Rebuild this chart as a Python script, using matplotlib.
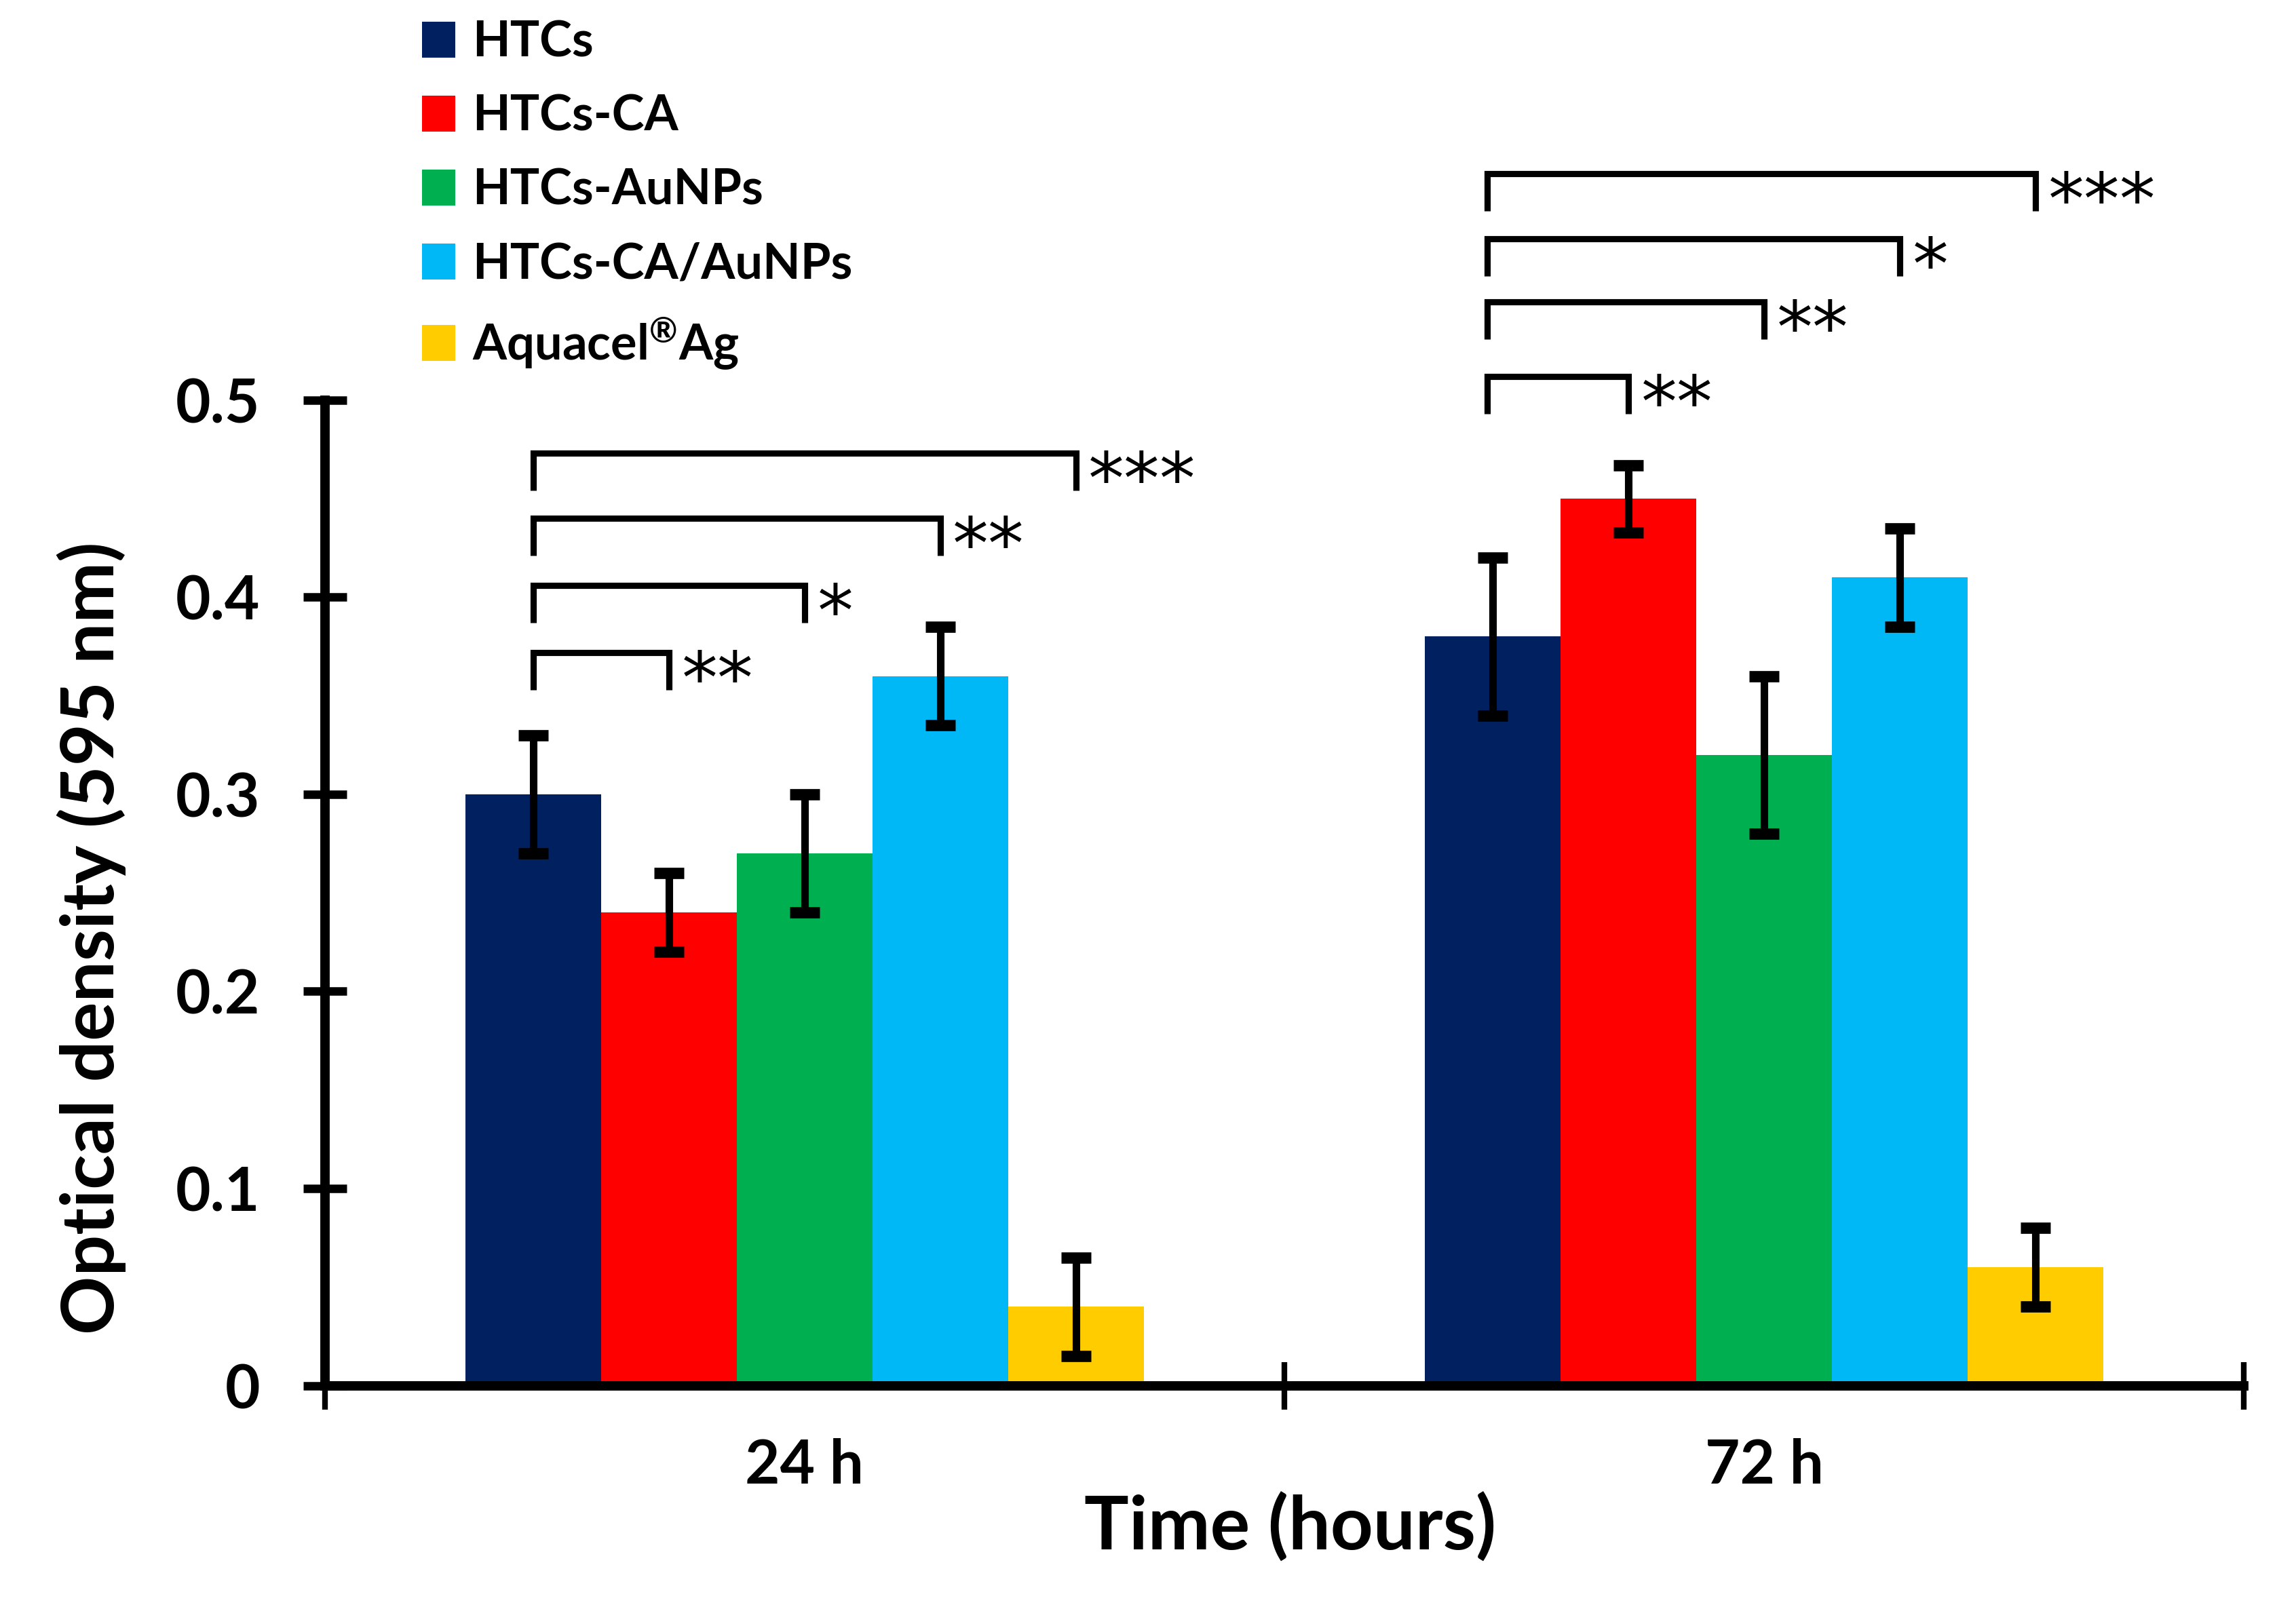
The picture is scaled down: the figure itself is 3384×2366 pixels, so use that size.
import matplotlib
matplotlib.use("Agg")
import matplotlib.pyplot as plt
from matplotlib.patches import Patch
import numpy as np

plt.rcParams['font.family'] = ['Lato', 'DejaVu Sans']
plt.rcParams['font.weight'] = 'bold'
plt.rcParams['mathtext.fontset'] = 'custom'
plt.rcParams['mathtext.rm'] = 'Lato:bold'
plt.rcParams['mathtext.bf'] = 'Lato:bold'
plt.rcParams['mathtext.default'] = 'rm'

# data
time_points = ['24 h', '72 h']
groups = ['HTCs', 'HTCs-CA', 'HTCs-AuNPs', 'HTCs-CA/AuNPs', 'Aquacel$^{®}$Ag']
colors = ['#002060', '#FF0000', '#00B050', '#00B8F5', '#FFCC00']

od_24h = [0.30, 0.24, 0.27, 0.36, 0.04]
od_72h = [0.38, 0.45, 0.32, 0.41, 0.06]
err_24h = [0.030, 0.020, 0.030, 0.025, 0.025]
err_72h = [0.040, 0.017, 0.040, 0.025, 0.020]

# significance brackets, all against HTCs
sig_targets = [1, 2, 3, 4]
sig_24h = ['**', '*', '**', '***']
sig_72h = ['**', '**', '*', '***']
bracket_y_24h = [0.372, 0.406, 0.440, 0.473]
bracket_y_72h = [0.512, 0.550, 0.582, 0.615]

fig = plt.figure(figsize=(16.92, 11.83), dpi=200)
ax = fig.add_axes([0.1415, 0.1367, 0.9773 - 0.1415, 0.7507 - 0.1367])

width = 0.1414
x = np.arange(len(time_points))
values = np.array([od_24h, od_72h])
errors = np.array([err_24h, err_72h])

for i, (name, col) in enumerate(zip(groups, colors)):
    pos = x + (i - 2) * width
    ax.bar(pos, values[:, i], width, color=col, zorder=2)
    ax.errorbar(pos, values[:, i], yerr=errors[:, i], fmt='none', ecolor='black',
                elinewidth=4, capsize=7.8, capthick=6, zorder=3)

# brackets
drop = 0.019
for gi, (tops, stars) in enumerate([(bracket_y_24h, sig_24h), (bracket_y_72h, sig_72h)]):
    x0 = x[gi] - 2 * width - 0.006 * gi
    for tgt, top, s in zip(sig_targets, tops, stars):
        x1 = x[gi] + (tgt - 2) * width
        ax.plot([x0, x0, x1, x1], [top - drop, top, top, top - drop], color='black',
                lw=3.3, clip_on=False, solid_capstyle='butt', solid_joinstyle='miter', zorder=4)
        ax.text(x1 + 0.013, top + 0.002, s, fontsize=38, family='DejaVu Sans', fontweight='normal',
                va='top', ha='left', clip_on=False)

ax.set_xlim(-0.5, 1.5)
ax.set_ylim(0, 0.5)
for side in ['top', 'right']:
    ax.spines[side].set_visible(False)
ax.spines['left'].set_linewidth(5)
ax.spines['bottom'].set_linewidth(5)

yticks = np.arange(0, 0.51, 0.1)
ax.set_yticks(yticks, [f'{v:g}' for v in yticks])
ax.tick_params(axis='y', direction='inout', length=22.8, width=4.5, labelsize=32, pad=23)
ax.set_xticks(x, time_points)
ax.set_xticks([-0.5, 0.5, 1.5], minor=True)
ax.tick_params(axis='x', which='major', length=0, pad=28, labelsize=32)
ax.tick_params(axis='x', which='minor', direction='inout', length=25, width=3)

ax.set_ylabel('Optical density (595 nm)', fontsize=38.5, fontweight='bold')
ax.yaxis.set_label_coords(-0.1035, 0.454)
ax.set_xlabel('Time (hours)', fontsize=39.5, fontweight='bold')
ax.xaxis.set_label_coords(0.503, -0.108)

handles = [Patch(facecolor=c, edgecolor='none', label=g) for g, c in zip(groups, colors)]
fig.legend(handles=handles, loc='upper left', bbox_to_anchor=(0.1838, 0.9875), frameon=False,
           fontsize=26, handlelength=0.68, handleheight=0.75, handletextpad=0.35,
           labelspacing=0.58, borderpad=0, borderaxespad=0)

fig.savefig('out.png', dpi=200)
